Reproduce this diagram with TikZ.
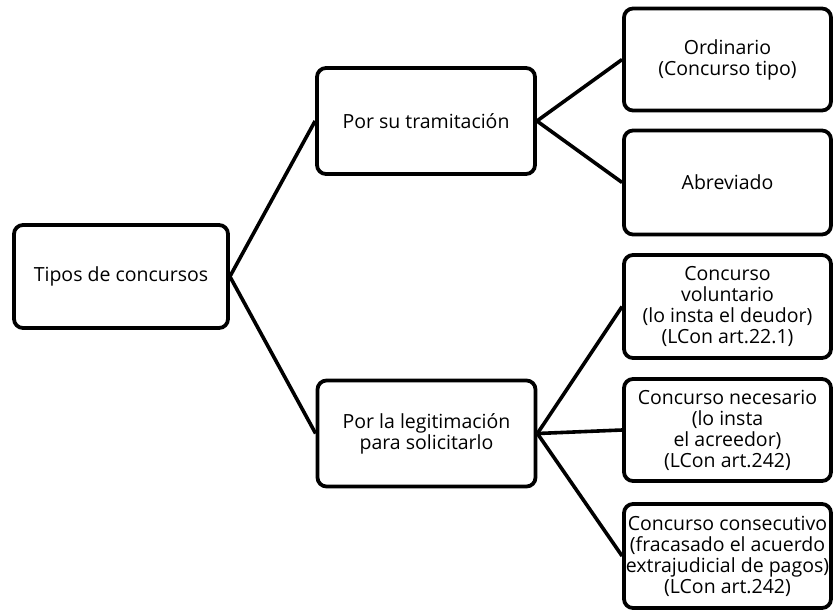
\documentclass[tikz,border=0pt]{standalone}
\usepackage{fontspec}
\setmainfont{Open Sans}
\begin{document}
\begin{tikzpicture}[x=1pt,y=-1pt,
  box/.style={draw=black, line width=3.8pt, rounded corners=9pt, fill=white,
    align=center, inner sep=0pt, font=\fontsize{19.5}{21}\selectfont},
  conn/.style={draw=black, line width=3.6pt}]
\useasboundingbox (0,0) rectangle (835,613);
\node[box, minimum width=214pt, minimum height=103pt] (tipos) at (121,276.5) {Tipos de concursos};
\node[box, minimum width=218pt, minimum height=106pt] (tram) at (426,121) {Por su tramitación};
\node[box, minimum width=218pt, minimum height=106pt] (legit) at (426.5,433.5) {Por la legitimación\\para solicitarlo};
\node[box, minimum width=207pt, minimum height=102pt] (ord) at (727.5,59.5) {Ordinario\\(Concurso tipo)};
\node[box, minimum width=207pt, minimum height=104pt] (abr) at (727.5,182.5) {Abreviado};
\node[box, minimum width=207pt, minimum height=103pt] (vol) at (727.5,306.5) {Concurso\\voluntario\\(lo insta el deudor)\\(LCon art.22.1)};
\node[box, minimum width=207pt, minimum height=102pt] (nec) at (727.5,430) {Concurso necesario\\(lo insta\\el acreedor)\\(LCon art.242)};
\node[box, minimum width=207pt, minimum height=104pt] (cons) at (727.5,556) {Concurso consecutivo\\(fracasado el acuerdo\\extrajudicial de pagos)\\(LCon art.242)};
\draw[conn] (tipos.east) -- (tram.west);
\draw[conn] (tipos.east) -- (legit.west);
\draw[conn] (tram.east) -- (ord.west);
\draw[conn] (tram.east) -- (abr.west);
\draw[conn] (legit.east) -- (vol.west);
\draw[conn] (legit.east) -- (nec.west);
\draw[conn] (legit.east) -- (cons.west);
\end{tikzpicture}
\end{document}
